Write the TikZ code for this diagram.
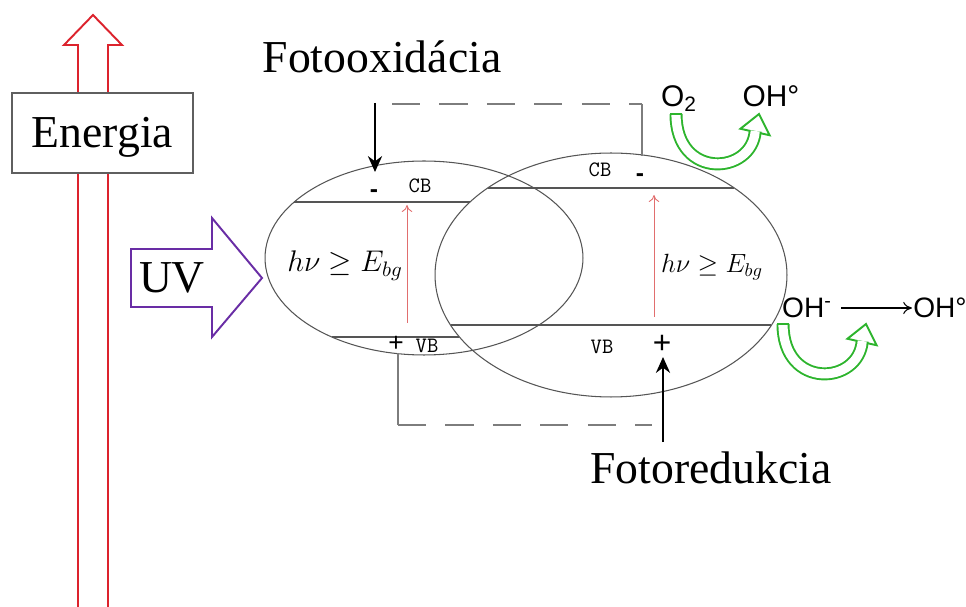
\RequirePackage{fix-cm}
\documentclass[tikz,border=0pt]{standalone}
\usepackage{amsmath, amssymb}
\usepackage{fontspec}
\setmainfont{Liberation Serif}
\setsansfont{Liberation Sans}
\usepackage{tikz}
\usetikzlibrary{arrows.meta, calc, shapes.geometric}

\definecolor{energyred}{RGB}{220,35,45}
\definecolor{uvpurple}{RGB}{105,45,165}
\definecolor{turngreen}{RGB}{45,180,45}
\definecolor{gapred}{RGB}{225,110,110}
\definecolor{bandgrey}{RGB}{85,85,85}
\definecolor{linkgrey}{RGB}{125,125,125}
\definecolor{boxgrey}{RGB}{95,95,95}

\tikzset{
    bigtext/.style={font=\fontsize{26}{30}\selectfont, inner sep=0pt, anchor=base},
    chemtext/.style={font=\sffamily\fontsize{17}{20}\selectfont, inner sep=0pt, anchor=base},
    bandtext/.style={font=\ttfamily\fontsize{12.5}{14}\selectfont, inner sep=0pt, anchor=base},
    signtext/.style={font=\sffamily\fontsize{15}{17}\selectfont, inner sep=0pt, anchor=base},
    semibody/.style={draw=bandgrey, ellipse, line width=0.6pt, inner sep=0pt},
    bandline/.style={bandgrey, line width=0.7pt},
    linkline/.style={linkgrey, line width=0.9pt},
    gaparrow/.style={gapred, line width=0.5pt, -{To[length=4pt, width=6pt]}},
    pusharrow/.style={black, line width=1.6pt, -{Stealth[length=9pt, width=8pt]}},
    reactarrow/.style={black, line width=0.6pt, -{To[length=5pt, width=7pt]}},
    turnshaft/.style={draw=turngreen, line width=1.1pt, double=white, double distance=5.2pt},
    turnhead/.style={draw=turngreen, fill=white, line width=1.1pt, line join=miter},
}

\begin{document}
\begin{tikzpicture}[x=0.02cm, y=-0.02cm, >=Stealth]
    \useasboundingbox (0,0) rectangle (966,607);

    \draw[energyred, line width=1.1pt, line join=miter] (78,607) -- (78,45) -- (64,45) -- (93,15) -- (122,45) -- (108,45) -- (108,607);
    \node[draw=boxgrey, fill=white, line width=0.6pt, minimum width=3.62cm, minimum height=1.6cm,
          inner sep=0pt, text depth=0pt, text height=0.6cm, font=\fontsize{26}{30}\selectfont] (energia) at (102.5,133) {Energia};

    \draw[uvpurple, line width=1.1pt, line join=miter] (131,249) -- (212,249) -- (212,218) -- (262,278) -- (212,337) -- (212,307) -- (131,307) -- cycle;
    \node[bigtext] (uv) at (172,293) {UV};

    \node[semibody, minimum width=6.36cm, minimum height=3.88cm] (semiL) at (424,258) {};
    \node[semibody, minimum width=7.04cm, minimum height=4.88cm] (semiR) at (611,275) {};

    \coordinate (cbL-a) at (294,202);
    \coordinate (cbL-b) at (470,202);
    \coordinate (cbR-a) at (488,188);
    \coordinate (cbR-b) at (734,188);
    \coordinate (vbR-a) at (451,325);
    \coordinate (vbR-b) at (771,325);
    \coordinate (vbL-a) at (332,337);
    \coordinate (vbL-b) at (459,337);
    \draw[bandline] (cbL-a) -- (cbL-b);
    \draw[bandline] (cbR-a) -- (cbR-b);
    \draw[bandline] (vbR-a) -- (vbR-b);
    \draw[bandline] (vbL-a) -- (vbL-b);

    \coordinate (gapL-s) at (407,323);
    \coordinate (gapL-e) at (407,205);
    \coordinate (gapR-s) at (654,317);
    \coordinate (gapR-e) at (654,195);
    \draw[gaparrow] (gapL-s) -- (gapL-e);
    \draw[gaparrow] (gapR-s) -- (gapR-e);

    \node[font=\fontsize{17}{20}\selectfont, inner sep=0pt, anchor=base] (hvL) at (345,272) {$h\nu \geq E_{bg}$};
    \node[font=\fontsize{15}{18}\selectfont, inner sep=0pt, anchor=base] (hvR) at (712,273) {$h\nu \geq E_{bg}$};

    \node[bandtext] (cbLlabel) at (420,193) {CB};
    \node[bandtext] (cbRlabel) at (600,177) {CB};
    \node[bandtext] (vbLlabel) at (427,353) {VB};
    \node[bandtext] (vbRlabel) at (602,354) {VB};

    \node[signtext, font=\sffamily\bfseries\fontsize{14}{16}\selectfont] (minusL) at (374,198) {-};
    \node[signtext, font=\sffamily\bfseries\fontsize{14}{16}\selectfont] (minusR) at (640,182) {-};
    \node[signtext] (plusL) at (396,352) {+};
    \node[signtext, font=\sffamily\fontsize{18}{20}\selectfont] (plusR) at (662,354) {+};

    \coordinate (linkTL) at (392,104);
    \coordinate (linkTR) at (642,104);
    \coordinate (linkTend) at (642,156);
    \draw[linkline, dash pattern=on 16pt off 11pt] (linkTL) -- (linkTR);
    \draw[linkline] (linkTR) -- (linkTend);
    \coordinate (linkBtop) at (398,353);
    \coordinate (linkBL) at (398,425);
    \coordinate (linkBR) at (652,425);
    \draw[linkline] (linkBtop) -- (linkBL);
    \draw[linkline, dash pattern=on 16pt off 11pt] (linkBL) -- (linkBR);

    \coordinate (oxtail) at (375,103);
    \coordinate (oxtip) at (375,172);
    \draw[pusharrow] (oxtail) -- (oxtip);
    \coordinate (redtail) at (663,442);
    \coordinate (redtip) at (663,357);
    \draw[pusharrow] (redtail) -- (redtip);

    \node[bigtext] (fotoox) at (382,73) {Fotooxidácia};
    \node[bigtext] (fotored) at (711,483) {Fotoredukcia};

    \node[chemtext] (o2) at (679,107) {O\textsubscript{2}};
    \node[chemtext] (ohrad) at (771,107) {OH°};
    \node[chemtext, font=\sffamily\fontsize{16}{18}\selectfont] (ohminus) at (807,318) {OH\textsuperscript{-}};
    \node[chemtext, font=\sffamily\fontsize{16}{18}\selectfont] (ohrad2) at (940,318) {OH°};
    \draw[reactarrow] ($(ohminus.base east)+(9,-10)$) -- ($(ohrad2.base west)+(-1,-10)$);

    \foreach \dx/\dy in {0/0, 107/210}{
        \begin{scope}[shift={(\dx,\dy)}]
            \coordinate (turnS) at (676,114);
            \coordinate (turnE) at (755,132);
            \coordinate (turnT) at (759,114);
            \draw[turnhead] ($(turnE)!8.5pt!90:(turnT)$) -- (turnT) -- ($(turnE)!8.5pt!-90:(turnT)$) -- cycle;
            \draw[turnshaft] (turnS) .. controls (676,180) and (752,175) .. ($(turnE)!0.6pt!(turnT)$);
            \draw[turngreen, line width=1.1pt, line cap=square] ($(turnS)+(-5.6,0)$) -- ($(turnS)+(5.6,0)$);
        \end{scope}
    }
\end{tikzpicture}
\end{document}
